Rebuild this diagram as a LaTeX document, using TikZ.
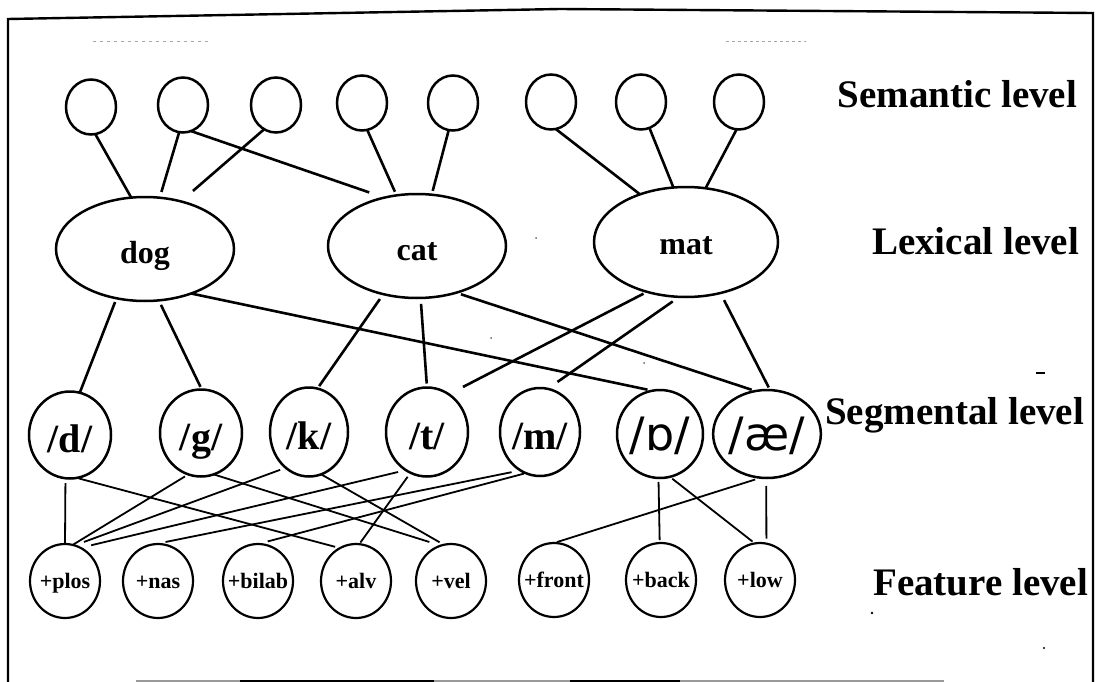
\documentclass[tikz,border=0pt]{standalone}
\usepackage{fontspec}
\setmainfont{Liberation Serif}
\newfontfamily\handfont{DejaVu Sans}
\usetikzlibrary{shapes.geometric}
\begin{document}
\begin{tikzpicture}[x=1pt, y=-1pt,
  every node/.style={inner sep=0pt, outer sep=0pt},
  ring/.style={draw, ellipse, line width=2.5pt},
  sem/.style={ring, minimum width=50pt, minimum height=55pt},
  lex/.style={ring, minimum width=178pt, minimum height=104pt, text height=28pt, text depth=0pt,
    font=\bfseries\fontsize{32}{32}\selectfont},
  seg/.style={ring, minimum width=82pt, minimum height=87pt, text height=34pt, text depth=0pt,
    font=\bfseries\fontsize{40}{40}\selectfont},
  hand/.style={text height=32pt, text depth=0pt, font=\handfont\fontsize{46}{46}\selectfont},
  feat/.style={ring, line width=2.2pt, minimum width=70pt, minimum height=74pt},
  ftxt/.style={text height=15pt, text depth=1pt, font=\bfseries\fontsize{22}{22}\selectfont},
  level/.style={anchor=base east, font=\bfseries\fontsize{39}{39}\selectfont},
  heavy/.style={line width=2.6pt},
  light/.style={line width=1.8pt},
  gapA/.style={shorten <=#1},
  gapB/.style={shorten >=#1},
]
\useasboundingbox (0,0) rectangle (1097,682);

% frame
\draw[line width=2.4pt] (8,682) -- (8,19) -- (560,9) -- (1093,13) -- (1093,682);
\draw[line width=1.6pt, black!40] (136,681) -- (944,681);
\draw[line width=1.8pt] (240,681) -- (434,681);
\draw[line width=1.8pt] (570,681) -- (680,681);

% faint marks near the top edge
\draw[black!35, line width=1pt, dash pattern=on 3pt off 4pt] (93,42) -- (211,42);
\draw[black!35, line width=1pt, dash pattern=on 3pt off 3pt] (726,42) -- (806,42);
\draw[line width=1.5pt] (1036,373) -- (1045,373);
\fill (872,613) circle (1.3pt);
\fill (1044,648) circle (1.2pt);
\fill[black!60] (536,238) circle (1pt);
\fill[black!60] (491,338) circle (1pt);
\fill[black!60] (644,363) circle (1pt);

% semantic level
\node[sem] (s1) at (91,107) {};
\node[sem] (s2) at (183,105) {};
\node[sem] (s3) at (276,105) {};
\node[sem] (s4) at (362,103) {};
\node[sem] (s5) at (453,103) {};
\node[sem] (s6) at (551,102) {};
\node[sem] (s7) at (641,102) {};
\node[sem] (s8) at (739,102) {};

% lexical level
\node[lex] (dog) at (145,249) {dog};
\node[lex] (cat) at (417,246) {cat};
\node[lex, minimum width=184pt, minimum height=110pt, text height=24pt] (mat) at (686,242) {mat};

% segmental level
\node[seg] (d) at (70,435) {/d/};
\node[seg] (g) at (201,433) {/g/};
\node[seg, minimum width=78pt, minimum height=89pt] (k) at (309,432) {/k/};
\node[seg, minimum height=89pt] (t) at (427,432) {/t/};
\node[seg, minimum width=80pt, minimum height=88pt] (m) at (540,432) {/m/};
\node[seg, hand, minimum width=86pt, minimum height=88pt] (o) at (660,434) {/ɒ/};
\node[seg, hand, minimum width=86pt, minimum height=88pt] (ae) at (767,434) {/æ/};

% feature level
\node[feat, label={[ftxt]center:+plos}] (plos) at (65,581) {};
\node[feat, label={[ftxt]center:+nas}] (nas) at (158,581) {};
\node[feat, label={[ftxt]center:+bilab}] (bilab) at (258,581) {};
\node[feat, label={[ftxt]center:+alv}] (alv) at (356,581) {};
\node[feat, label={[ftxt]center:+vel}] (vel) at (451,581) {};
\node[feat, label={[ftxt]center:+front}] (front) at (554,580) {};
\node[feat, label={[ftxt]center:+back}] (back) at (661,580) {};
\node[feat, label={[ftxt]center:+low}] (low) at (760,580) {};

% level names
\node[level] (semlab) at (1077,108) {Semantic level};
\node[level] (lexlab) at (1079,254) {Lexical level};
\node[level] (seglab) at (1084,424) {Segmental level};
\node[level] (featlab) at (1088,595) {Feature level};

% semantic to lexical
\draw[heavy] (s1.-81) -- (dog.105);
\draw[heavy, gapB=6pt] (s2.-98) -- (dog.74);
\draw[heavy, gapB=16pt] (s2.-73) -- (cat.124);
\draw[heavy, gapB=16pt] (s3.-116) -- (dog.53);
\draw[heavy, gapB=4pt] (s4.-79) -- (cat.112);
\draw[heavy, gapB=4pt] (s5.-99) -- (cat.74);
\draw[heavy] (s6.-80) -- (mat.134);
\draw[heavy] (s7.-72) -- (mat.103);
\draw[heavy] (s8.-95) -- (mat.70);

% lexical to segmental
\draw[heavy, gapA=4pt] (dog.-120) -- (d.77);
\draw[heavy, gapA=5pt, gapB=3pt] (dog.-75) -- (g.89);
\draw[heavy, gapB=5pt] (dog.-44) -- (o.100);
\draw[heavy, gapA=6pt, gapB=3pt] (cat.-125) -- (k.79);
\draw[heavy, gapA=6pt, gapB=4pt] (cat.-86) -- (t.90);
\draw[heavy, gapA=5pt, gapB=4pt] (cat.-50) -- (ae.105);
\draw[heavy, gapA=4pt, gapB=16pt] (mat.-128) -- (t.60);
\draw[heavy, gapA=8pt, gapB=12pt] (mat.-97) -- (m.80);
\draw[heavy, gapA=8pt, gapB=3pt] (mat.-56) -- (ae.86);

% segmental to feature
\draw[light, gapA=5pt] (d.-96) -- (plos.90);
\draw[light, gapA=2pt, gapB=5pt] (d.-81) -- (alv.116);
\draw[light, gapA=4pt, gapB=1pt] (g.-107) -- (plos.78);
\draw[light, gapB=12pt] (g.-73) -- (vel.106);
\draw[light, gapA=6pt, gapB=10pt] (k.-123) -- (plos.75);
\draw[light, gapB=5pt] (k.-74) -- (vel.101);
\draw[light, gapA=8pt, gapB=11pt] (t.-119) -- (plos.65);
\draw[light, gapA=5pt, gapB=2pt] (t.-112) -- (alv.85);
\draw[light, gapA=9pt, gapB=11pt] (m.-117) -- (nas.95);
\draw[light, gapA=2pt, gapB=10pt] (m.-109) -- (bilab.90);
\draw[light, gapA=4pt, gapB=3pt] (o.-92) -- (back.92);
\draw[light, gapA=3pt, gapB=3pt] (o.-77) -- (low.98);
\draw[light, gapA=6pt, gapB=3pt] (ae.-98) -- (front.90);
\draw[light, gapA=8pt, gapB=5pt] (ae.-91) -- (low.80);
\end{tikzpicture}
\end{document}
